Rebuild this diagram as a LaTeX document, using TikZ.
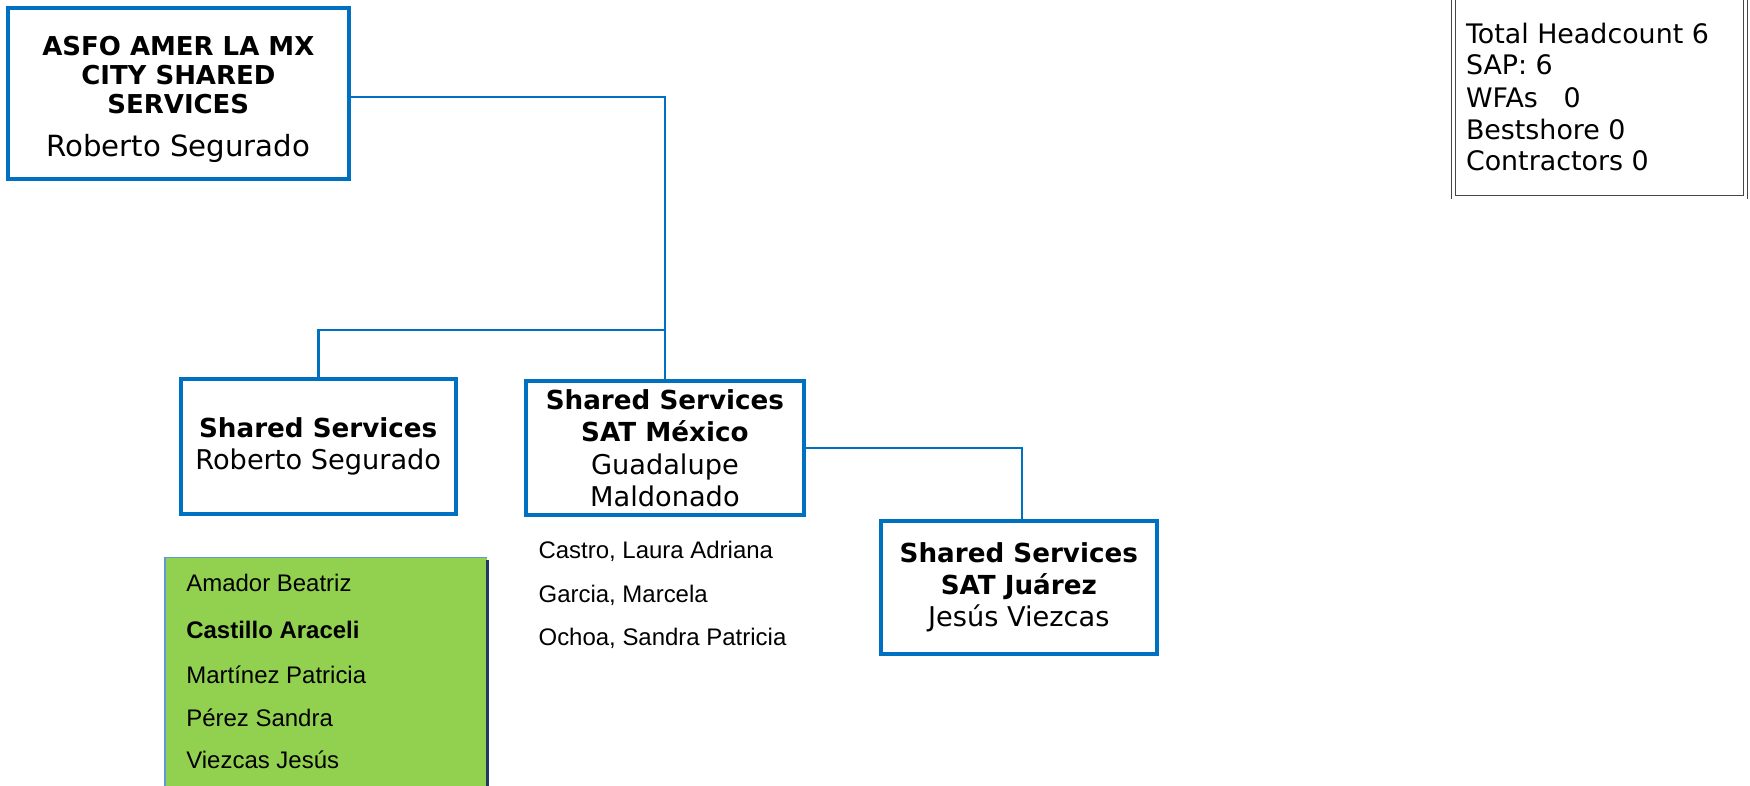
\documentclass[tikz,border=0pt]{standalone}
\usepackage{fontspec}
\setmainfont{DejaVu Sans}
\newfontfamily\arialf{Liberation Sans}
\definecolor{orgblue}{RGB}{0,112,192}
\definecolor{listgreen}{RGB}{146,208,80}
\definecolor{edgeblue}{RGB}{91,155,213}
\definecolor{edgedark}{RGB}{31,56,100}
\newcommand\bt[1]{{\fontsize{23.5}{29}\selectfont\bfseries #1}}
\begin{document}
\begin{tikzpicture}[x=1pt,y=-1pt,
  orgbox/.style={draw=orgblue,line width=3.6pt,fill=white,inner sep=0pt,align=center,
    font=\fontsize{24.4}{29}\selectfont},
  link/.style={draw=orgblue,line width=2.4pt},
  listtext/.style={anchor=west,inner sep=0pt,font=\arialf\fontsize{21.5}{24}\selectfont},
  counttext/.style={anchor=west,inner sep=0pt,font=\fontsize{24.1}{28}\selectfont}]
\useasboundingbox (0,0) rectangle (1570,705);

% headcount box
\node[draw=gray!55!black,double,double distance=2.2pt,line width=0.8pt,
  minimum width=262pt,minimum height=200pt,inner sep=0pt] (count) at (1435,77) {};
\node[counttext] (c1) at (1315,30) {Total Headcount 6};
\node[counttext] (c2) at (1315,58) {SAP: 6};
\node[counttext] (c3) at (1315,88) {WFAs\ \ \ 0};
\node[counttext] (c4) at (1315,116) {Bestshore 0};
\node[counttext] (c5) at (1315,144) {Contractors 0};

% top box
\node[orgbox,minimum width=306pt,minimum height=154pt] (top) at (160,84) {};
\node[align=center,inner sep=0pt,font=\fontsize{23.3}{26}\selectfont] (toptext) at (160,89)
  {\bfseries ASFO AMER LA MX\\\bfseries CITY SHARED\\\bfseries SERVICES\\[13pt]
   \fontsize{26.2}{29}\selectfont Roberto Segurado};

% second level boxes
\node[orgbox,minimum width=247pt,minimum height=121pt] (ss) at (285.5,400.5)
  {\bt{Shared Services}\\Roberto Segurado};
\node[orgbox,minimum width=249pt,minimum height=120pt] (mex) at (596.5,402)
  {\bt{Shared Services}\\\bt{SAT México}\\Guadalupe\\Maldonado};
\node[orgbox,minimum width=248pt,minimum height=120pt] (jua) at (914,527)
  {\bt{Shared Services}\\\bt{SAT Juárez}\\Jesús Viezcas};

% connectors
\coordinate (j) at (596.5,296);
\draw[link] ([yshift=-3pt]top.east) -| (mex.north);
\draw[link] (ss.north) |- (j);
\draw[link] (mex.east) -| ([xshift=3pt]jua.north);

% names under Mexico
\node[listtext] (n1) at (483,495) {Castro, Laura Adriana};
\node[listtext] (n2) at (483,534) {Garcia, Marcela};
\node[listtext] (n3) at (483,573) {Ochoa, Sandra Patricia};

% green list
\fill[listgreen] (148,500) rectangle (437,710);
\draw[edgeblue,line width=1.5pt] (148,712) -- (148,500) -- (437,500);
\draw[edgedark,line width=2.5pt] (437,502) -- (437,712);
\node[listtext] (g1) at (167,523) {Amador Beatriz};
\node[listtext] (g2) at (167,565) {\bfseries Castillo Araceli};
\node[listtext] (g3) at (167,605) {Martínez Patricia};
\node[listtext] (g4) at (167,644) {Pérez Sandra};
\node[listtext] (g5) at (167,682) {Viezcas Jesús};
\end{tikzpicture}
\end{document}
